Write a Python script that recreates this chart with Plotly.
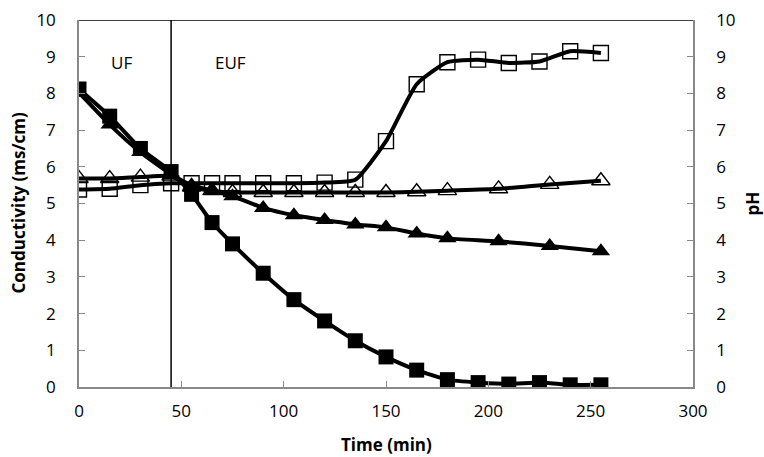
import plotly.graph_objects as go

# Time points (min)
time_sq = [0, 15, 30, 45, 55, 65, 75, 90, 105, 120, 135, 150, 165, 180, 195, 210, 225, 240, 255]
time_tri = [0, 15, 30, 45, 55, 65, 75, 90, 105, 120, 135, 150, 165, 180, 205, 230, 255]

# Conductivity (ms/cm) - filled markers
cond_sq = [8.12, 7.38, 6.5, 5.87, 5.25, 4.48, 3.9, 3.1, 2.38, 1.8, 1.26, 0.82, 0.46, 0.2, 0.12, 0.08, 0.12, 0.06, 0.06]
cond_tri = [8.02, 7.15, 6.4, 5.8, 5.5, 5.35, 5.2, 4.88, 4.68, 4.55, 4.43, 4.35, 4.18, 4.05, 3.97, 3.84, 3.7]

# pH - open markers
ph_sq = [5.38, 5.4, 5.5, 5.55, 5.55, 5.55, 5.55, 5.55, 5.55, 5.57, 5.65, 6.7, 8.25, 8.85, 8.92, 8.83, 8.87, 9.15, 9.1]
ph_tri = [5.68, 5.68, 5.72, 5.75, 5.45, 5.35, 5.3, 5.3, 5.3, 5.3, 5.3, 5.3, 5.32, 5.35, 5.4, 5.52, 5.62]

phase_boundary = 45
phase_labels = ["UF", "EUF"]
phase_label_x = [21, 74]
phase_label_y = [8.85, 8.85]

x_ticks = [0, 50, 100, 150, 200, 250, 300]
y_ticks = [0, 1, 2, 3, 4, 5, 6, 7, 8, 9, 10]

FONT = "Open Sans"
AXIS_GRAY = "#898989"
TICK_SIZE = 17
TITLE_SIZE = 17

fig = go.Figure()

line_style = dict(color="black", width=4, shape="spline", smoothing=0.5)

fig.add_trace(go.Scatter(x=time_tri, y=ph_tri, yaxis="y2", mode="lines+markers",
                         line=line_style,
                         marker=dict(symbol="triangle-up-open", size=16, color="black",
                                     line=dict(width=1.4, color="black")),
                         showlegend=False))
fig.add_trace(go.Scatter(x=time_sq, y=ph_sq, yaxis="y2", mode="lines+markers",
                         line=line_style,
                         marker=dict(symbol="square-open", size=15, color="black",
                                     line=dict(width=1.4, color="black")),
                         showlegend=False))
fig.add_trace(go.Scatter(x=time_tri, y=cond_tri, mode="lines+markers",
                         line=line_style,
                         marker=dict(symbol="triangle-up", size=16, color="black"),
                         showlegend=False))
fig.add_trace(go.Scatter(x=time_sq, y=cond_sq, mode="lines+markers",
                         line=line_style,
                         marker=dict(symbol="square", size=15, color="black"),
                         showlegend=False))

# phase boundary and top border
fig.add_shape(type="line", x0=phase_boundary, x1=phase_boundary, y0=0, y1=10,
              xref="x", yref="y", line=dict(color="black", width=1.5))
fig.add_shape(type="line", x0=x_ticks[0], x1=x_ticks[-1], y0=y_ticks[-1], y1=y_ticks[-1],
              xref="x", yref="y", line=dict(color="black", width=1.5))

for t, xx, yy in zip(phase_labels, phase_label_x, phase_label_y):
    fig.add_annotation(x=xx, y=yy, xref="x", yref="y", text=t, showarrow=False,
                       font=dict(family=FONT, size=TICK_SIZE, color="black"))

# axis titles
fig.add_annotation(x=0.5, y=0, xref="paper", yref="paper", yshift=-57,
                   xanchor="center", yanchor="middle", text="<b>Time (min)</b>",
                   showarrow=False, font=dict(family=FONT, size=TITLE_SIZE, color="black"))
fig.add_annotation(x=0, y=0.5, xref="paper", yref="paper", xshift=-61, textangle=-90,
                   xanchor="center", yanchor="middle",
                   text="<b>Conductivity (ms/cm)</b>",
                   showarrow=False, font=dict(family=FONT, size=TITLE_SIZE, color="black"))
fig.add_annotation(x=1, y=0.5, xref="paper", yref="paper", xshift=59, textangle=-90,
                   xanchor="center", yanchor="middle",
                   text="<b>pH</b>",
                   showarrow=False, font=dict(family=FONT, size=TITLE_SIZE, color="black"))

axis_common = dict(showgrid=False, zeroline=False, showline=True, linecolor=AXIS_GRAY,
                   linewidth=1.5, ticks="inside", tickcolor=AXIS_GRAY, tickwidth=1.2,
                   automargin=False,
                   tickfont=dict(family=FONT, size=TICK_SIZE, color="black"))

fig.update_layout(
    width=764, height=457,
    margin=dict(l=79, r=71, t=20, b=70),
    paper_bgcolor="white", plot_bgcolor="white",
    font=dict(family=FONT, color="black"),
    xaxis=dict(range=[0, 300], tickvals=x_ticks, ticklen=6, ticklabelstandoff=8,
               **axis_common),
    yaxis=dict(range=[0, 10], tickvals=y_ticks, ticklen=6, ticklabelstandoff=18,
               **axis_common),
    yaxis2=dict(range=[0, 10], tickvals=y_ticks, ticklen=6, ticklabelstandoff=18,
                overlaying="y", side="right",
                **axis_common),
)

# remove the default 8px page margin so the figure sits at the window's top-left corner
fig.write_html("out.html",
               config={"displayModeBar": False},
               post_script="document.body.style.margin='0';document.body.style.overflow='hidden';")
